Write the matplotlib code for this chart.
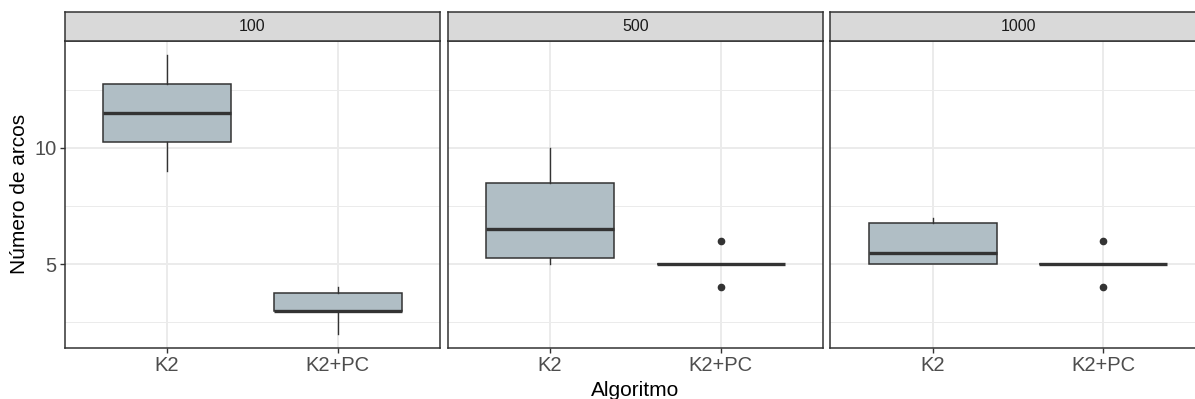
import matplotlib
matplotlib.use("Agg")
import matplotlib.pyplot as plt

plt.rcParams['font.family'] = ['Liberation Sans', 'DejaVu Sans']

# data (box stats per panel)
panels = ["100", "500", "1000"]
algos = ["K2", "K2+PC"]
whislo = [[9, 2], [5, 5], [5, 5]]
q1 = [[10.25, 3], [5.25, 5], [5, 5]]
med = [[11.5, 3], [6.5, 5], [5.5, 5]]
q3 = [[12.75, 3.75], [8.5, 5], [6.75, 5]]
whishi = [[14, 4], [10, 5], [7, 5]]
fliers = [[[], []], [[], [6, 4]], [[], [6, 4]]]

W, H = 1195, 399
fig = plt.figure(figsize=(W / 100, H / 100), dpi=100)

left0 = 64.7
pw = 375.5
gap = 7.3
top = 40.7
bot = 348
strip_h = 29

fill = "#B0BEC5"
edge = "#333333"

for i, p in enumerate(panels):
    x0 = left0 + i * (pw + gap)
    ax = fig.add_axes([x0 / W, (H - bot) / H, pw / W, (bot - top) / H])
    stats = []
    for j, a in enumerate(algos):
        stats.append(dict(whislo=whislo[i][j], q1=q1[i][j], med=med[i][j],
                          q3=q3[i][j], whishi=whishi[i][j], fliers=fliers[i][j]))
    ax.bxp(stats, positions=[1, 2], widths=0.75, patch_artist=True,
           showcaps=False,
           boxprops=dict(facecolor=fill, edgecolor=edge, linewidth=1.1),
           medianprops=dict(color=edge, linewidth=2.4, solid_capstyle='butt'),
           whiskerprops=dict(color=edge, linewidth=1.0),
           flierprops=dict(marker='o', markerfacecolor=edge, markeredgecolor=edge,
                           markersize=4.5))
    ax.set_xlim(0.4, 2.6)
    ax.set_ylim(1.4, 14.6)
    ax.set_xticks([1, 2])
    ax.set_xticklabels(algos)
    ax.set_yticks([5, 10])
    ax.set_yticks([2.5, 7.5, 12.5], minor=True)
    ax.grid(True, which='major', color='#EBEBEB', linewidth=1.4, zorder=0)
    ax.grid(True, which='minor', axis='y', color='#EBEBEB', linewidth=0.7, zorder=0)
    ax.set_axisbelow(True)
    for s in ax.spines.values():
        s.set_color(edge)
        s.set_linewidth(1.1)
    ax.tick_params(axis='both', which='major', length=3.5, width=1.0, color=edge,
                   labelsize=14.5, labelcolor='#4D4D4D', pad=2.5)
    ax.tick_params(axis='y', which='minor', length=0)
    if i == 0:
        ax.set_ylabel("Número de arcos", fontsize=15, color='black', labelpad=4)
    else:
        ax.tick_params(axis='y', which='major', left=False, labelleft=False)

    sax = fig.add_axes([x0 / W, (H - top) / H, pw / W, strip_h / H])
    sax.set_facecolor('#D9D9D9')
    sax.set_xticks([])
    sax.set_yticks([])
    for s in sax.spines.values():
        s.set_color(edge)
        s.set_linewidth(1.1)
    sax.text(0.5, 0.5, p, ha='center', va='center', fontsize=11.5,
             color='#1A1A1A', transform=sax.transAxes)

xc = (left0 + left0 + 3 * pw + 2 * gap) / 2
fig.text(xc / W, 1 - 390 / H, "Algoritmo", ha='center', va='center', fontsize=15)

fig.savefig("out.png", dpi=100)
